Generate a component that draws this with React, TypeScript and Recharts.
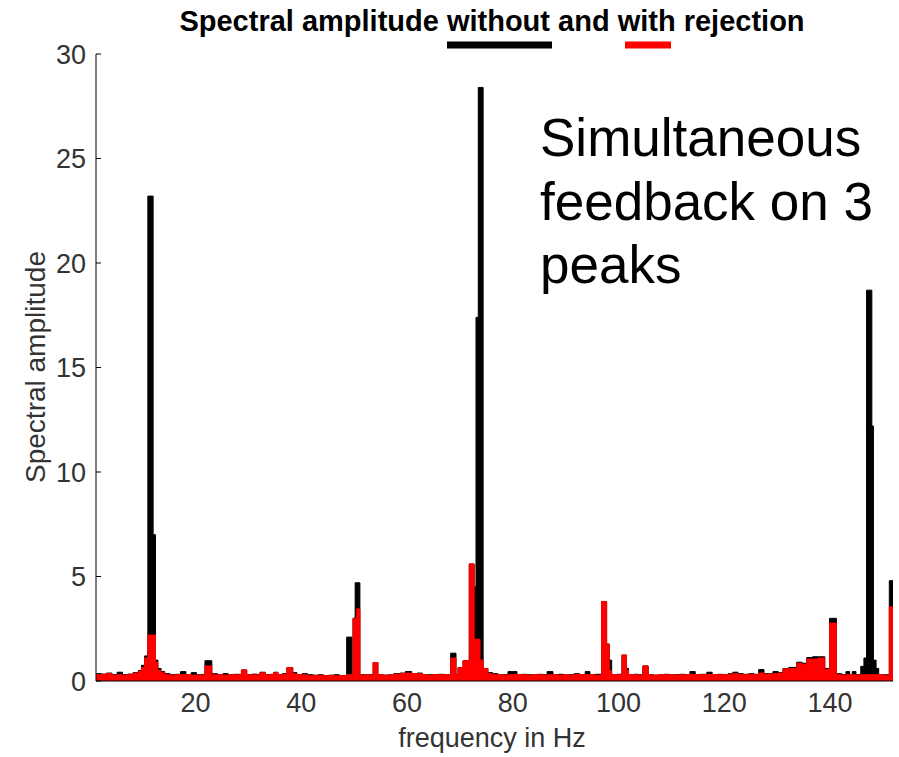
import React from 'react';
import { ComposedChart, Area, XAxis, YAxis } from 'recharts';

const FONT = '"Liberation Sans", Arial, Helvetica, sans-serif';

// Frequency (Hz) where each spectral step begins
const freq = [
  1.0, 2.0, 3.0, 4.0, 5.0, 6.0, 7.0, 8.0, 9.0, 9.6, 10.2, 10.8, 11.8, 12.25, 12.7, 13.3, 14.0, 15.0, 16.0, 17.0,
  18.0, 19.0, 20.0, 21.0, 21.6, 22.9, 24.0, 25.0, 26.0, 27.0, 28.5, 29.5, 30.5, 31.5, 32.0, 33.0, 34.0, 34.6, 35.4, 36.2,
  37.1, 38.2, 39.0, 40.0, 41.0, 42.0, 43.0, 44.0, 45.0, 46.0, 47.0, 48.4, 49.4, 49.6, 50.0, 50.3, 50.9, 51.9, 52.9, 53.4,
  54.3, 55.3, 56.3, 57.3, 58.5, 59.5, 60.7, 61.7, 62.7, 63.7, 64.7, 65.7, 66.7, 68.06, 69.07, 69.45, 70.4, 71.58, 72.5, 72.85,
  73.28, 73.6, 74.2, 75.1, 76.0, 77.0, 78.0, 78.9, 79.8, 80.6, 81.5, 82.5, 83.5, 84.5, 85.5, 86.3, 87.4, 88.4, 89.4, 90.4,
  91.4, 92.4, 93.5, 94.4, 95.4, 96.6, 97.55, 98.05, 98.5, 99.5, 100.45, 101.3, 101.7, 102.7, 103.6, 104.4, 105.4, 106.4, 107.4, 108.4,
  109.4, 110.4, 111.4, 112.4, 113.3, 114.3, 115.3, 116.5, 117.5, 118.5, 119.5, 120.5, 121.4, 122.4, 123.4, 124.4, 125.4, 126.3, 127.3, 128.2,
  129.0, 130.0, 130.9, 132.0, 133.5, 134.5, 135.4, 136.5, 137.6, 138.8, 139.7, 141.0, 142.0, 142.8, 143.5, 144.0, 144.7, 145.6, 146.2, 146.7,
  147.7, 148.0, 148.5, 149.0, 150.0, 151.0, 151.7,
];

// Spectral amplitude without rejection (black)
const without = [
  0.35, 0.33, 0.38, 0.30, 0.42, 0.30, 0.33, 0.40, 0.50, 0.75, 1.20, 23.2, 7.0, 1.0, 0.60, 0.45, 0.35, 0.30, 0.32, 0.45,
  0.30, 0.40, 0.30, 0.32, 0.97, 0.35, 0.30, 0.35, 0.30, 0.32, 0.53, 0.30, 0.33, 0.30, 0.42, 0.30, 0.32, 0.42, 0.30, 0.35,
  0.64, 0.40, 0.30, 0.35, 0.30, 0.28, 0.30, 0.26, 0.28, 0.30, 0.26, 2.10, 0.30, 3.00, 4.70, 4.70, 0.30, 0.30, 0.30, 0.88,
  0.30, 0.28, 0.30, 0.35, 0.38, 0.45, 0.35, 0.38, 0.30, 0.30, 0.30, 0.32, 0.30, 1.33, 0.30, 0.64, 0.97, 5.60, 4.50, 17.4,
  28.4, 28.4, 0.60, 0.40, 0.35, 0.30, 0.30, 0.45, 0.45, 0.30, 0.32, 0.30, 0.30, 0.32, 0.30, 0.45, 0.30, 0.32, 0.30, 0.30,
  0.35, 0.30, 0.45, 0.30, 0.32, 3.80, 1.77, 1.00, 0.30, 0.32, 1.24, 0.60, 0.30, 0.32, 0.30, 0.72, 0.30, 0.28, 0.30, 0.32,
  0.30, 0.30, 0.32, 0.30, 0.45, 0.30, 0.32, 0.42, 0.30, 0.32, 0.30, 0.35, 0.42, 0.35, 0.32, 0.35, 0.32, 0.55, 0.35, 0.35,
  0.45, 0.40, 0.60, 0.65, 0.90, 0.85, 1.12, 1.16, 1.16, 0.60, 3.00, 0.35, 0.30, 0.45, 0.30, 0.45, 0.30, 0.70, 1.10, 18.7,
  12.2, 1.00, 0.60, 0.30, 0.30, 4.80, 4.80,
];

// Spectral amplitude with rejection (red)
const withRejection = [
  0.30, 0.32, 0.36, 0.28, 0.30, 0.28, 0.30, 0.38, 0.45, 0.65, 1.10, 2.20, 2.20, 0.90, 0.50, 0.40, 0.30, 0.28, 0.30, 0.30,
  0.30, 0.28, 0.28, 0.30, 0.72, 0.30, 0.30, 0.28, 0.30, 0.30, 0.53, 0.30, 0.30, 0.28, 0.40, 0.30, 0.30, 0.40, 0.30, 0.32,
  0.64, 0.35, 0.30, 0.30, 0.25, 0.26, 0.28, 0.25, 0.26, 0.25, 0.25, 0.30, 0.28, 3.00, 3.00, 3.45, 0.28, 0.30, 0.28, 0.88,
  0.30, 0.28, 0.30, 0.32, 0.36, 0.38, 0.35, 0.35, 0.30, 0.28, 0.30, 0.30, 0.30, 1.10, 0.30, 0.64, 0.97, 5.60, 2.00, 2.00,
  2.00, 1.00, 0.60, 0.35, 0.30, 0.30, 0.28, 0.30, 0.32, 0.30, 0.30, 0.28, 0.30, 0.30, 0.28, 0.30, 0.30, 0.28, 0.30, 0.28,
  0.32, 0.30, 0.30, 0.30, 0.28, 3.80, 1.77, 0.50, 0.30, 0.30, 1.24, 0.50, 0.30, 0.30, 0.28, 0.72, 0.30, 0.28, 0.30, 0.30,
  0.30, 0.28, 0.30, 0.30, 0.32, 0.30, 0.30, 0.32, 0.30, 0.30, 0.30, 0.32, 0.35, 0.32, 0.30, 0.32, 0.30, 0.38, 0.32, 0.33,
  0.35, 0.38, 0.58, 0.60, 0.85, 0.80, 1.05, 1.05, 1.10, 0.55, 2.77, 0.30, 0.28, 0.30, 0.30, 0.30, 0.28, 0.30, 0.30, 0.30,
  0.30, 0.30, 0.30, 0.30, 0.28, 3.55, 3.55,
];

const xTicks = [20, 40, 60, 80, 100, 120, 140];
const yTicks = [0, 5, 10, 15, 20, 25, 30];

const titleText = 'Spectral amplitude without and with rejection';
const xLabel = 'frequency in Hz';
const yLabel = 'Spectral amplitude';
const noteLines = ['Simultaneous', 'feedback on 3', 'peaks'];

const data = freq.map((f, i) => ({ f, without: without[i], withRejection: withRejection[i] }));

const YTick = (props: any) => {
  const { x, y, payload } = props;
  return (
    <g>
      <line x1={x + 10} x2={x + 15} y1={y} y2={y} stroke="#000" strokeWidth={1} />
      <text x={x} y={y} dy="0.36em" textAnchor="end" fontSize={27} fill="#333" fontFamily={FONT}>
        {payload.value}
      </text>
    </g>
  );
};

const XTick = (props: any) => {
  const { x, y, payload } = props;
  return (
    <text x={x - 1} y={y} dy="0.72em" textAnchor="middle" fontSize={27} fill="#333" fontFamily={FONT}>
      {payload.value}
    </text>
  );
};

export default function App() {
  return (
    <div style={{ position: 'absolute', left: 0, top: 0, width: 899, height: 757, background: '#fff' }}>
      <ComposedChart
        width={899}
        height={757}
        data={data}
        margin={{ top: 54, right: 6, bottom: 0, left: 0 }}
      >
        <XAxis
          dataKey="f"
          type="number"
          domain={[1, 151.7]}
          allowDataOverflow
          ticks={xTicks}
          tick={<XTick />}
          tickLine={false}
          tickSize={0}
          tickMargin={12}
          height={76}
          axisLine={{ stroke: '#000' }}
        />
        <YAxis
          type="number"
          domain={[0, 30]}
          ticks={yTicks}
          tick={<YTick />}
          tickLine={false}
          tickSize={0}
          tickMargin={10}
          width={96}
          axisLine={{ stroke: '#000' }}
        />
        <Area
          dataKey="without"
          type="stepAfter"
          fill="#000"
          fillOpacity={1}
          stroke="#000"
          strokeWidth={1}
          dot={false}
          activeDot={false}
          isAnimationActive={false}
        />
        <Area
          dataKey="withRejection"
          type="stepAfter"
          fill="#ff0000"
          fillOpacity={1}
          stroke="#ff0000"
          strokeWidth={1}
          dot={false}
          activeDot={false}
          isAnimationActive={false}
        />
      </ComposedChart>
      <svg
        width={899}
        height={757}
        style={{ position: 'absolute', left: 0, top: 0, pointerEvents: 'none' }}
      >
        <text x={492} y={31} textAnchor="middle" fontSize={29} fontWeight="bold" fontFamily={FONT} fill="#000">
          {titleText}
        </text>
        <rect x={447} y={41.5} width={105} height={7} fill="#000" />
        <rect x={625} y={41.5} width={46} height={7} fill="#ff0000" />
        {noteLines.map((t, i) => (
          <text key={t} x={540} y={156 + i * 63.5} fontSize={53} fontFamily={FONT} fill="#000">
            {t}
          </text>
        ))}
        <text x={492} y={747} textAnchor="middle" fontSize={27} fontFamily={FONT} fill="#333">
          {xLabel}
        </text>
        <text
          x={0}
          y={0}
          transform="translate(45,367) rotate(-90)"
          textAnchor="middle"
          fontSize={28}
          fontFamily={FONT}
          fill="#333"
        >
          {yLabel}
        </text>
      </svg>
    </div>
  );
}
